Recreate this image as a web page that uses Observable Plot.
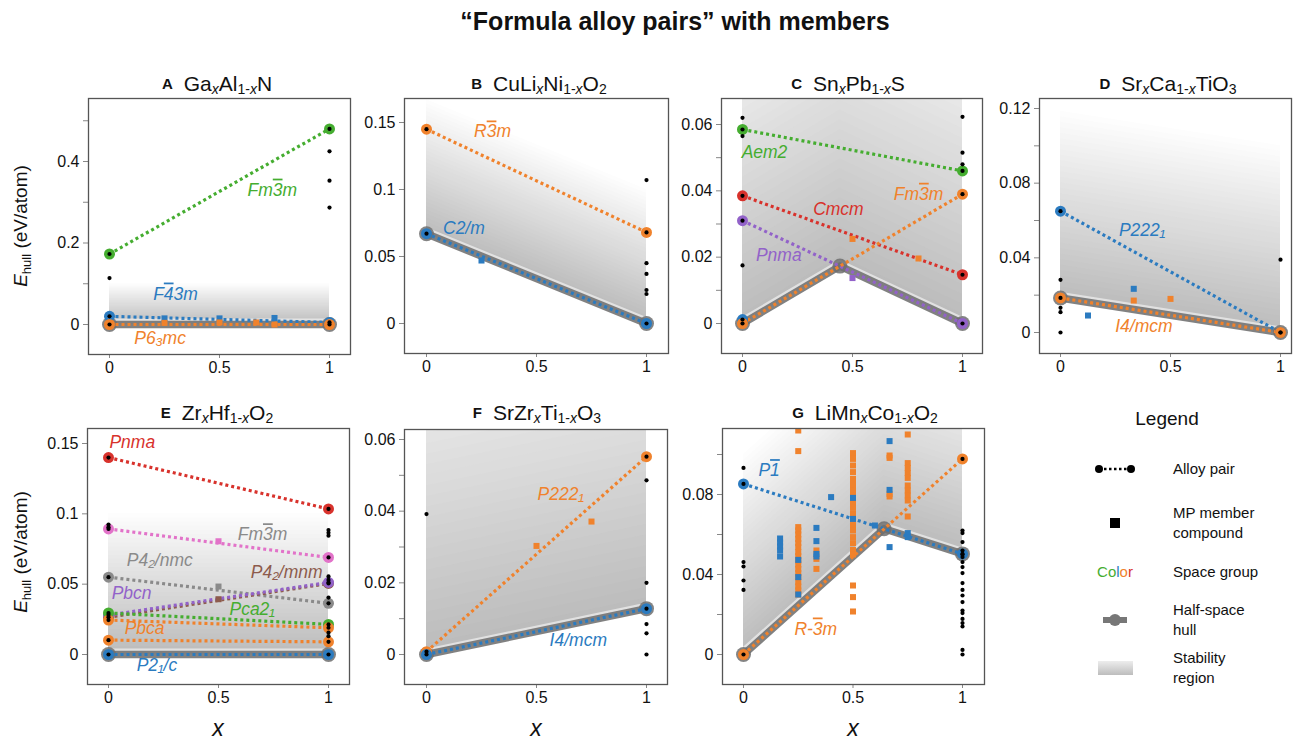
<!DOCTYPE html>
<html><head><meta charset="utf-8">
<script src="https://cdn.jsdelivr.net/npm/d3@7"></script>
<script src="https://cdn.jsdelivr.net/npm/@observablehq/plot@0.6"></script>
<style>
body{margin:0;background:#fff;font-family:"Liberation Sans",Arial,sans-serif;color:#111;}
#root{position:relative;width:1293px;height:743px;overflow:hidden;background:#fff;}
.t{position:absolute;white-space:nowrap;transform:translate(-50%,-50%);}
.ptitle{font-size:21px;}
.ptitle b{font-size:15px;margin-right:11px;position:relative;top:-2px;}
.ptitle sub{font-size:14px;vertical-align:-3px;}
.ylab{font-size:19px;transform:translate(-50%,-50%) rotate(-90deg);}
.ylab sub{font-size:13px;vertical-align:-4px;}
.xlab{font-size:23px;font-style:italic;}
.main{font-size:25px;font-weight:bold;}
</style></head><body><div id="root"></div>
<script>
// ================= DATA =================
const X_TICKS = [0, 0.5, 1];
const BAR = "\u0305"; // combining overline (bar over the preceding digit)

// ---- A: GaxAl1-xN ----
const A_groups = ["Fm3" + BAR + "m", "F4" + BAR + "3m", "P6\u2083mc"];
const A_atX0 = [0.173, 0.020, 0.000];
const A_atX1 = [0.480, 0.005, 0.000];
const A_members = [
  {sg: A_groups[1], x: 0.25, y: [0.015]}, {sg: A_groups[1], x: 0.5, y: [0.015]}, {sg: A_groups[1], x: 0.75, y: [0.016]},
  {sg: A_groups[2], x: 0.25, y: [0.004]}, {sg: A_groups[2], x: 0.5, y: [0.005]},
  {sg: A_groups[2], x: 0.667, y: [0.005]}, {sg: A_groups[2], x: 0.75, y: [0.0]}
];
const A_otherX0 = [0.114];
const A_otherX1 = [0.425, 0.353, 0.287];
const A_hullX = [0, 1];
const A_hullY = [0, 0];
const A_yMajor = [0, 0.2, 0.4];
const A_yMinor = [0.1, 0.3, 0.5];

// ---- B: CuLixNi1-xO2 ----
const B_groups = ["R3" + BAR + "m", "C2/m"];
const B_atX0 = [0.145, 0.067];
const B_atX1 = [0.068, 0.000];
const B_members = [{sg: "C2/m", x: 0.25, y: [0.047]}];
const B_otherX0 = [];
const B_otherX1 = [0.107, 0.045, 0.037, 0.025, 0.022];
const B_hullX = [0, 1];
const B_hullY = [0.067, 0];
const B_yMajor = [0, 0.05, 0.1, 0.15];
const B_yMinor = [];

// ---- C: SnxPb1-xS ----
const C_groups = ["Aem2", "Cmcm", "Pnma", "Fm3" + BAR + "m"];
const C_atX0 = [0.0585, 0.0385, 0.031, 0.000];
const C_atX1 = [0.046, 0.0147, 0.000, 0.039];
const C_members = [
  {sg: C_groups[3], x: 0.5, y: [0.0255]}, {sg: C_groups[3], x: 0.8, y: [0.0196]},
  {sg: "Pnma", x: 0.5, y: [0.0137]}
];
const C_soloX = [0];
const C_soloY = [0.0012];
const C_otherX0 = [0.062, 0.0565, 0.0175];
const C_otherX1 = [0.0623, 0.0515, 0.048];
const C_hullX = [0, 0.443, 1];
const C_hullY = [0, 0.0173, 0];
const C_yMajor = [0, 0.02, 0.04, 0.06];
const C_yMinor = [0.01, 0.03, 0.05];

// ---- D: SrxCa1-xTiO3 ----
const D_groups = ["P222\u2081", "I4/mcm"];
const D_atX0 = [0.065, 0.0185];
const D_atX1 = [0.000, 0.000];
const D_members = [
  {sg: "P222\u2081", x: 0.125, y: [0.0091]}, {sg: "P222\u2081", x: 0.333, y: [0.0234]},
  {sg: "I4/mcm", x: 0.333, y: [0.0171]}, {sg: "I4/mcm", x: 0.5, y: [0.018]}
];
const D_otherX0 = [0.0282, 0.0132, 0.0109, 0.0];
const D_otherX1 = [0.039];
const D_hullX = [0, 1];
const D_hullY = [0.0185, 0];
const D_yMajor = [0, 0.04, 0.08, 0.12];
const D_yMinor = [0.02, 0.06, 0.1];

// ---- E: ZrxHf1-xO2 ----
const E_groups = ["Pnma", "Fm3" + BAR + "m", "P4\u2082/nmc", "P4\u2082/mnm", "Pbcn", "Pca2\u2081", "Pbca", "Pbca-b", "P2\u2081/c"];
const E_atX0 = [0.140, 0.0893, 0.055, 0.0265, 0.028, 0.0295, 0.0245, 0.0102, 0.0];
const E_atX1 = [0.1035, 0.069, 0.0364, 0.0505, 0.0512, 0.0214, 0.019, 0.009, 0.0];
const E_members = [
  {sg: E_groups[1], x: 0.5, y: [0.0805]}, {sg: "P4\u2082/nmc", x: 0.5, y: [0.0483]},
  {sg: "P4\u2082/mnm", x: 0.5, y: [0.0393]}
];
const E_otherX0 = [0.0924, 0.0905];
const E_otherX1 = [0.0885, 0.0865, 0.0845, 0.0555, 0.053, 0.0405, 0.0155, 0.013];
const E_hullX = [0, 1];
const E_hullY = [0, 0];
const E_yMajor = [0, 0.05, 0.1, 0.15];
const E_yMinor = [];

// ---- F: SrZrxTi1-xO3 ----
const F_groups = ["P222\u2081", "I4/mcm"];
const F_atX0 = [0.0008, 0.0];
const F_atX1 = [0.0552, 0.0128];
const F_members = [{sg: "P222\u2081", x: 0.5, y: [0.0303]}, {sg: "P222\u2081", x: 0.75, y: [0.0371]}];
const F_otherX0 = [0.0392];
const F_otherX1 = [0.0486, 0.020, 0.0085, 0.0059, 0.0];
const F_hullX = [0, 1];
const F_hullY = [0, 0.0128];
const F_yMajor = [0, 0.02, 0.04, 0.06];
const F_yMinor = [0.01, 0.03, 0.05];

// ---- G: LiMnxCo1-xO2 ----
const G_groups = ["P1" + BAR, "R-3" + BAR + "m"];
const G_atX0 = [0.0853, 0.0];
const G_atX1 = [0.0503, 0.0978];
const G_members = [
  {sg: G_groups[1], x: 0.25, y: [0.112, 0.1017, 0.0637, 0.062, 0.06, 0.0578, 0.0557, 0.0537, 0.0512, 0.0492, 0.047, 0.045, 0.0428, 0.0407, 0.0387, 0.0362, 0.034, 0.032, 0.03]},
  {sg: G_groups[1], x: 0.333, y: [0.052, 0.0478, 0.0428]},
  {sg: G_groups[1], x: 0.5, y: [0.1007, 0.0978, 0.0945, 0.0912, 0.0878, 0.0862, 0.0837, 0.082, 0.0795, 0.0762, 0.0733, 0.0703, 0.0673, 0.0645, 0.062, 0.0587, 0.0557, 0.0523, 0.05, 0.0345, 0.0287, 0.0215]},
  {sg: G_groups[1], x: 0.667, y: [0.0995, 0.0983, 0.0803, 0.079]},
  {sg: G_groups[1], x: 0.75, y: [0.11, 0.0957, 0.0933, 0.0907, 0.0883, 0.0845, 0.082, 0.0795, 0.077, 0.069]},
  {sg: G_groups[0], x: 0.167, y: [0.058, 0.056, 0.054, 0.052, 0.049]},
  {sg: G_groups[0], x: 0.25, y: [0.0473, 0.0387, 0.03]},
  {sg: G_groups[0], x: 0.333, y: [0.0633, 0.0567, 0.0503, 0.049]},
  {sg: G_groups[0], x: 0.4, y: [0.0787]},
  {sg: G_groups[0], x: 0.5, y: [0.0783, 0.0678]},
  {sg: G_groups[0], x: 0.6, y: [0.0645]},
  {sg: G_groups[0], x: 0.667, y: [0.1067, 0.0823, 0.0537]},
  {sg: G_groups[0], x: 0.75, y: [0.0607, 0.0587]}
];
const G_otherX0 = [0.0933, 0.0462, 0.044, 0.037, 0.0323];
const G_otherX1 = [0.062, 0.0607, 0.0562, 0.052, 0.05, 0.0487, 0.0462, 0.0437, 0.0407, 0.0357, 0.0323, 0.0295, 0.0262, 0.022, 0.0207, 0.0178, 0.0157, 0.014, 0.0023, 0.0];
const G_hullX = [0, 0.642, 1];
const G_hullY = [0, 0.0629, 0.0503];
const G_yMajor = [0, 0.04, 0.08];
const G_yMinor = [0.02, 0.06, 0.1];

// ================= STYLE / LAYOUT =================
const PAL = {blue: "#2b7bc0", orange: "#f0822c", green: "#45ad30", red: "#d8322c", purple: "#9262c9",
             pink: "#e273c9", grey: "#8a8a8a", brown: "#8d5b4c"};
const A_colors = ["green", "blue", "orange"];
const B_colors = ["orange", "blue"];
const C_colors = ["green", "red", "purple", "orange"];
const D_colors = ["blue", "orange"];
const E_colors = ["red", "pink", "grey", "brown", "purple", "green", "orange", "orange", "blue"];
const F_colors = ["orange", "blue"];
const G_colors = ["blue", "orange"];

// annotation labels: text, position (data coords), colour
const A_lab = {text: [A_groups[0], A_groups[1], A_groups[2]], x: [0.74, 0.30, 0.23], y: [0.33, 0.075, -0.035], c: ["green", "blue", "orange"]};
const B_lab = {text: [B_groups[0], "C2/m"], x: [0.30, 0.17], y: [0.143, 0.071], c: ["orange", "blue"]};
const C_lab = {text: ["Aem2", "Cmcm", "Pnma", C_groups[3]], x: [0.10, 0.436, 0.165, 0.80], y: [0.0515, 0.0345, 0.0205, 0.039], c: ["green", "red", "purple", "orange"]};
const D_lab = {text: ["P222\u2081", "I4/mcm"], x: [0.371, 0.379], y: [0.0546, 0.0034], c: ["blue", "orange"]};
const E_lab = {text: ["Pnma", E_groups[1], "P4\u2082/nmc", "P4\u2082/mnm", "Pbcn", "Pca2\u2081", "Pbca", "P2\u2081/c"],
  x: [0.108, 0.70, 0.233, 0.81, 0.105, 0.653, 0.164, 0.22], y: [0.151, 0.0852, 0.0669, 0.0583, 0.0436, 0.0324, 0.0186, -0.0076],
  c: ["red", "grey", "grey", "brown", "purple", "green", "orange", "blue"]};
const F_lab = {text: ["P222\u2081", "I4/mcm"], x: [0.61, 0.69], y: [0.0446, 0.0038], c: ["orange", "blue"]};
const G_lab = {text: [G_groups[0], G_groups[1]], x: [0.117, 0.33], y: [0.092, 0.0128], c: ["blue", "orange"]};

// pixel frame of each panel (frame edges, pixel of x=0 / x=1, pixel of y=0 and of a reference tick)
const LAY = {
  A: {fL: 88, fR: 350, fT: 98, fB: 354, x0: 109, x1: 329, y0: 324, yv: 0.4, yp: 161},
  B: {fL: 404, fR: 668, fT: 98, fB: 353, x0: 426, x1: 646, y0: 323, yv: 0.15, yp: 122},
  C: {fL: 721, fR: 982, fT: 98, fB: 353, x0: 742, x1: 962, y0: 323, yv: 0.06, yp: 124},
  D: {fL: 1039, fR: 1291, fT: 98, fB: 353, x0: 1060, x1: 1280, y0: 332, yv: 0.12, yp: 108},
  E: {fL: 87, fR: 349, fT: 428, fB: 684, x0: 108, x1: 328, y0: 654, yv: 0.15, yp: 443},
  F: {fL: 404, fR: 667, fT: 429, fB: 684, x0: 426, x1: 646, y0: 654, yv: 0.06, yp: 439},
  G: {fL: 722, fR: 984, fT: 428, fB: 684, x0: 743, x1: 962, y0: 654, yv: 0.08, yp: 494}
};

const root = document.getElementById("root");
const FONT = "'Liberation Sans', Arial, sans-serif";
const SVGNS = "http://www.w3.org/2000/svg";
const fmt = d => d === 0 ? "0" : String(Math.round(d * 1000) / 1000);

// turn "3\u0305" into a real overlined character inside the text element
function overlineBars(svg) {
  svg.querySelectorAll("text").forEach(t => {
    const s = t.textContent;
    if (!s.includes(BAR) || t.children.length) return;
    t.textContent = "";
    s.split(new RegExp("(." + BAR + ")")).forEach(p => {
      if (!p) return;
      const ts = document.createElementNS(SVGNS, "tspan");
      if (p.length === 2 && p[1] === BAR) {
        ts.textContent = p[0];
        ts.setAttribute("text-decoration", "overline");
        ts.style.textDecoration = "overline";
      } else ts.textContent = p;
      t.appendChild(ts);
    });
  });
}

function drawPanel(L, P) {
  const kx = L.x1 - L.x0, ky = (L.y0 - L.yp) / L.yv;
  const xDom = [(L.fL - L.x0) / kx, (L.fR - L.x0) / kx];
  const yDom = [(L.y0 - L.fB) / ky, (L.y0 - L.fT) / ky];
  const mL = 56, mR = 3, mT = 4, mB = 30;
  const width = mL + L.fR - L.fL + mR, height = mT + L.fB - L.fT + mB;
  const col = i => PAL[P.colors[i]];
  const hull = P.hullX.map((x, i) => ({x, y: P.hullY[i]}));
  const marks = [];
  // stability region gradient (bands above the half-space hull)
  const N = 34, span = 0.1, step = span / N;
  const interp = d3.interpolateRgb("#bcbcbc", "#fdfdfd");
  for (let k = 0; k < N; k++) {
    marks.push(Plot.areaY(hull, {x: "x", y1: d => d.y + k * step, y2: d => d.y + Math.min(span, (k + 1.6) * step),
      fill: interp(k / (N - 1)), clip: true}));
  }
  // half-space hull
  marks.push(Plot.line(hull, {x: "x", y: "y", stroke: "white", strokeWidth: 12, strokeOpacity: 0.55, clip: true}));
  marks.push(Plot.line(hull, {x: "x", y: "y", stroke: "#707070", strokeWidth: 7.5, strokeOpacity: 0.88, clip: true}));
  marks.push(Plot.dot(hull, {x: "x", y: "y", r: 7.5, fill: "#6e6e6e", fillOpacity: 0.85, clip: true}));
  // alloy pairs
  P.groups.forEach((g, i) => {
    const pts = [{x: 0, y: P.atX0[i]}, {x: 1, y: P.atX1[i]}];
    marks.push(Plot.line(pts, {x: "x", y: "y", stroke: col(i), strokeWidth: 3.2, strokeDasharray: "3,3",
      strokeLinecap: "butt", clip: true}));
  });
  // members
  const mem = P.members.flatMap(m => m.y.map(y => ({x: m.x, y, c: col(P.groups.indexOf(m.sg))})));
  marks.push(Plot.dot(mem, {x: "x", y: "y", symbol: "square", r: 3.4, fill: d => d.c, clip: true}));
  // endpoints
  const ends = P.groups.flatMap((g, i) => [{x: 0, y: P.atX0[i], c: col(i)}, {x: 1, y: P.atX1[i], c: col(i)}]);
  if (P.soloX) P.soloX.forEach((x, i) => ends.unshift({x, y: P.soloY[i], c: PAL.blue}));
  marks.push(Plot.dot(ends, {x: "x", y: "y", r: 5.5, fill: d => d.c, clip: true}));
  const blacks = ends.concat(P.otherX0.map(y => ({x: 0, y})), P.otherX1.map(y => ({x: 1, y})));
  marks.push(Plot.dot(blacks, {x: "x", y: "y", r: 2.1, fill: "#000", clip: true}));
  // labels
  const labs = P.lab.text.map((t, i) => ({t, x: P.lab.x[i], y: P.lab.y[i], c: PAL[P.lab.c[i]]}));
  marks.push(Plot.text(labs, {x: "x", y: "y", text: "t", fill: d => d.c, fontStyle: "italic", fontSize: 17.5}));
  // axes + frame
  marks.push(Plot.axisX({ticks: X_TICKS, tickSize: 4, tickPadding: 3, strokeOpacity: 0.5, fontSize: 16, label: null, tickFormat: d => String(d)}));
  marks.push(Plot.axisY({ticks: P.yMajor, tickSize: 5, tickPadding: 4, strokeOpacity: 0.5, fontSize: 16, label: null, tickFormat: fmt}));
  if (P.yMinor.length) marks.push(Plot.axisY({ticks: P.yMinor, tickSize: 5, strokeOpacity: 0.5, label: null, tickFormat: () => ""}));
  marks.push(Plot.frame({stroke: "#555", strokeWidth: 1.3}));
  const svg = Plot.plot({
    width, height, marginLeft: mL, marginRight: mR, marginTop: mT, marginBottom: mB,
    x: {domain: xDom, label: null}, y: {domain: yDom, label: null},
    color: {type: "identity"},
    style: {background: "transparent", overflow: "visible", fontFamily: FONT, fontSize: "16px", color: "#111"},
    marks
  });
  overlineBars(svg);
  svg.style.position = "absolute";
  svg.style.left = (L.fL - mL) + "px";
  svg.style.top = (L.fT - mT) + "px";
  root.appendChild(svg);
}

const PANELS = {
  A: {groups: A_groups, atX0: A_atX0, atX1: A_atX1, members: A_members, otherX0: A_otherX0, otherX1: A_otherX1, hullX: A_hullX, hullY: A_hullY, yMajor: A_yMajor, yMinor: A_yMinor, colors: A_colors, lab: A_lab},
  B: {groups: B_groups, atX0: B_atX0, atX1: B_atX1, members: B_members, otherX0: B_otherX0, otherX1: B_otherX1, hullX: B_hullX, hullY: B_hullY, yMajor: B_yMajor, yMinor: B_yMinor, colors: B_colors, lab: B_lab},
  C: {groups: C_groups, atX0: C_atX0, atX1: C_atX1, members: C_members, otherX0: C_otherX0, otherX1: C_otherX1, hullX: C_hullX, hullY: C_hullY, yMajor: C_yMajor, yMinor: C_yMinor, colors: C_colors, lab: C_lab, soloX: C_soloX, soloY: C_soloY},
  D: {groups: D_groups, atX0: D_atX0, atX1: D_atX1, members: D_members, otherX0: D_otherX0, otherX1: D_otherX1, hullX: D_hullX, hullY: D_hullY, yMajor: D_yMajor, yMinor: D_yMinor, colors: D_colors, lab: D_lab},
  E: {groups: E_groups, atX0: E_atX0, atX1: E_atX1, members: E_members, otherX0: E_otherX0, otherX1: E_otherX1, hullX: E_hullX, hullY: E_hullY, yMajor: E_yMajor, yMinor: E_yMinor, colors: E_colors, lab: E_lab},
  F: {groups: F_groups, atX0: F_atX0, atX1: F_atX1, members: F_members, otherX0: F_otherX0, otherX1: F_otherX1, hullX: F_hullX, hullY: F_hullY, yMajor: F_yMajor, yMinor: F_yMinor, colors: F_colors, lab: F_lab},
  G: {groups: G_groups, atX0: G_atX0, atX1: G_atX1, members: G_members, otherX0: G_otherX0, otherX1: G_otherX1, hullX: G_hullX, hullY: G_hullY, yMajor: G_yMajor, yMinor: G_yMinor, colors: G_colors, lab: G_lab}
};
for (const k of Object.keys(PANELS)) drawPanel(LAY[k], PANELS[k]);

// ================= TEXT =================
function addText(cls, html, x, y) {
  const d = document.createElement("div");
  d.className = "t " + cls;
  d.innerHTML = html;
  d.style.left = x + "px"; d.style.top = y + "px";
  root.appendChild(d);
}
addText("main", "\u201CFormula alloy pairs\u201D with members", 675, 21);
const X = "<sub><i>x</i></sub>", X1 = "<sub>1-<i>x</i></sub>";
const TITLES = [
  ["A", `Ga${X}Al${X1}N`, 217, 84], ["B", `CuLi${X}Ni${X1}O<sub>2</sub>`, 539, 84],
  ["C", `Sn${X}Pb${X1}S`, 848, 84], ["D", `Sr${X}Ca${X1}TiO<sub>3</sub>`, 1168, 84],
  ["E", `Zr${X}Hf${X1}O<sub>2</sub>`, 217, 413], ["F", `SrZr${X}Ti${X1}O<sub>3</sub>`, 537, 413],
  ["G", `LiMn${X}Co${X1}O<sub>2</sub>`, 865, 413]
];
TITLES.forEach(([l, f, x, y]) => addText("ptitle", `<b>${l}</b>${f}`, x, y));
addText("ylab", "<i>E</i><sub>hull</sub> (eV/atom)", 22, 226);
addText("ylab", "<i>E</i><sub>hull</sub> (eV/atom)", 22, 552);
addText("xlab", "x", 218, 728);
addText("xlab", "x", 536, 728);
addText("xlab", "x", 853, 728);

// ================= LEGEND =================
const LEG_ITEMS = [["Alloy pair"], ["MP member", "compound"], ["Space group"], ["Half-space", "hull"], ["Stability", "region"]];
const ox = 1040, oy = 395;
const leg = d3.select(root).append("svg").attr("width", 253).attr("height", 310)
  .style("position", "absolute").style("left", ox + "px").style("top", oy + "px")
  .style("font-family", FONT);
const grad = leg.append("defs").append("linearGradient").attr("id", "stab").attr("x1", 0).attr("x2", 0).attr("y1", 0).attr("y2", 1);
grad.append("stop").attr("offset", "0%").attr("stop-color", "#ededed");
grad.append("stop").attr("offset", "100%").attr("stop-color", "#bdbdbd");
leg.append("text").attr("x", 1167 - ox).attr("y", 418 - oy).attr("text-anchor", "middle").attr("dy", "0.35em")
  .attr("font-size", 19).attr("fill", "#111").text("Legend");
const rowsY = [469, 523, 572, 620, 668];
const sx = 1115 - ox;
// row 1: alloy pair
leg.append("line").attr("x1", sx - 16).attr("x2", sx + 16).attr("y1", rowsY[0] - oy).attr("y2", rowsY[0] - oy)
  .attr("stroke", "#000").attr("stroke-width", 2.5).attr("stroke-dasharray", "2.5,2.5");
[sx - 16, sx + 16].forEach(cx => leg.append("circle").attr("cx", cx).attr("cy", rowsY[0] - oy).attr("r", 4).attr("fill", "#000"));
// row 2: square
leg.append("rect").attr("x", sx - 5).attr("y", rowsY[1] - oy - 5).attr("width", 10).attr("height", 10).attr("fill", "#000");
// row 3: colour word
const cw = leg.append("text").attr("x", sx).attr("y", rowsY[2] - oy).attr("dy", "0.35em").attr("text-anchor", "middle").attr("font-size", 15);
[["C", PAL.green], ["o", PAL.green], ["l", PAL.blue], ["o", PAL.orange], ["r", PAL.red]].forEach(([ch, c]) => cw.append("tspan").attr("fill", c).text(ch));
// row 4: hull
leg.append("line").attr("x1", sx - 12).attr("x2", sx + 12).attr("y1", rowsY[3] - oy).attr("y2", rowsY[3] - oy)
  .attr("stroke", "#777").attr("stroke-width", 6);
leg.append("circle").attr("cx", sx).attr("cy", rowsY[3] - oy).attr("r", 6).attr("fill", "#777");
// row 5: gradient
leg.append("rect").attr("x", sx - 17).attr("y", rowsY[4] - oy - 7).attr("width", 35).attr("height", 14).attr("fill", "url(#stab)");
// texts
LEG_ITEMS.forEach((lines, i) => {
  const t = leg.append("text").attr("x", 1173 - ox).attr("font-size", 15).attr("fill", "#111");
  const y0 = rowsY[i] - oy - (lines.length - 1) * 10;
  lines.forEach((s, j) => t.append("tspan").attr("x", 1173 - ox).attr("y", y0 + j * 20).attr("dy", "0.35em").text(s));
});
</script></body></html>
